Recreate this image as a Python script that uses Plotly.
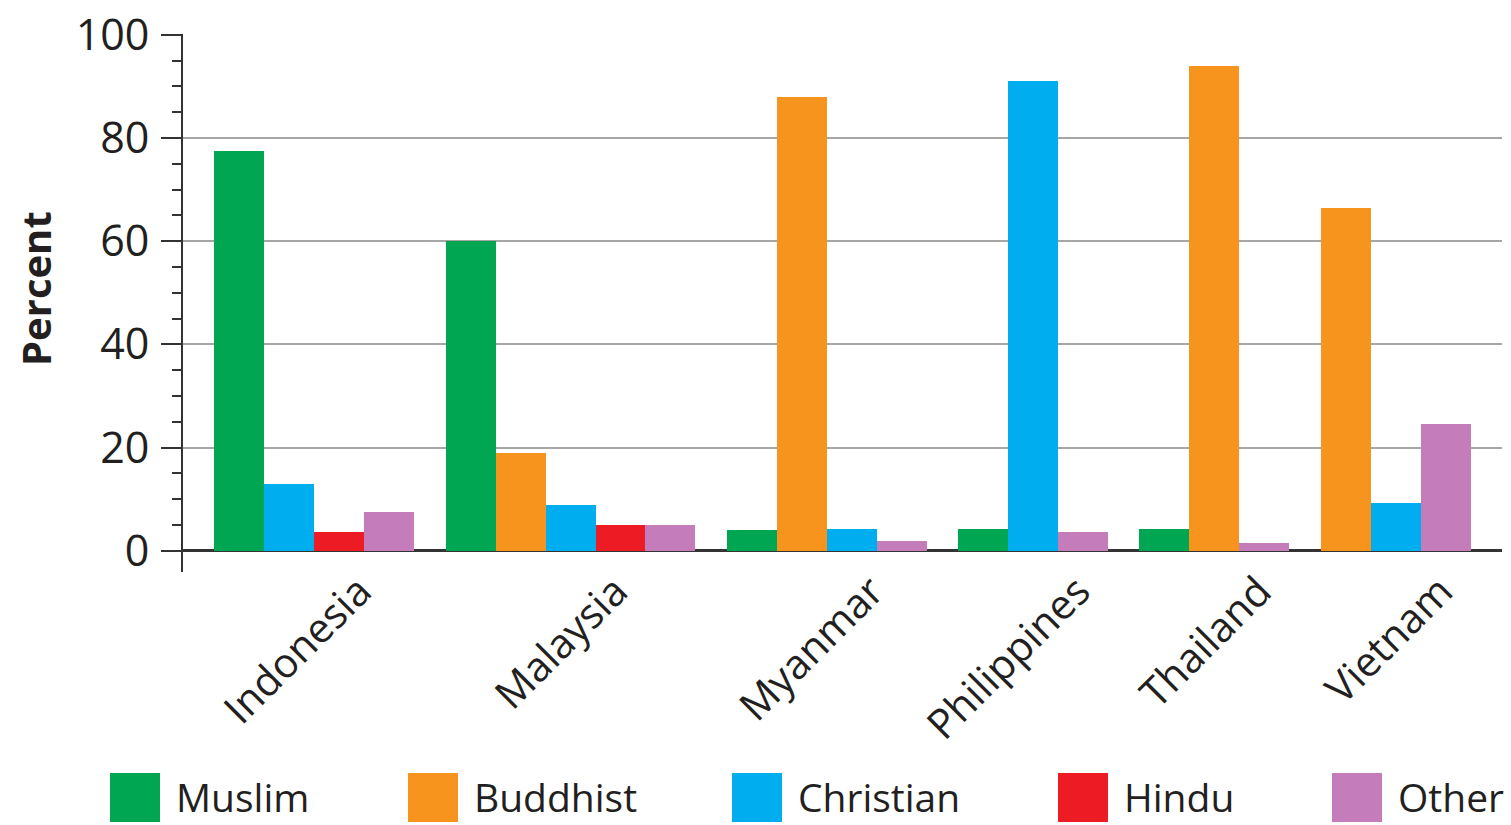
import plotly.graph_objects as go

# ---- data ----
countries = ["Indonesia", "Malaysia", "Myanmar", "Philippines", "Thailand", "Vietnam"]
series_names = ["Muslim", "Buddhist", "Christian", "Hindu", "Other"]
muslim = [77.5, 60, 4, 4.2, 4.2, None]
buddhist = [None, 19, 88, None, 94, 66.5]
christian = [13, 8.8, 4.3, 91, None, 9.2]
hindu = [3.7, 5, None, None, None, None]
other = [7.5, 5, 2, 3.7, 1.5, 24.6]
colors = ["#00A651", "#F7941D", "#00AEEF", "#ED1C24", "#C47DBA"]
y_ticks = [0, 20, 40, 60, 80, 100]

series_values = [muslim, buddhist, christian, hindu, other]

# ---- layout constants ----
W_FIG, H_FIG = 1511, 825
L, R, T, B = 183, 9, 34, 253
PW = W_FIG - L - R
PH = H_FIG - T - B
FONT = "Open Sans, sans-serif"
TXT = "#231F20"
GAP = 0.63          # gap between country groups, in bar widths
LABEL_SHIFT = 0.9   # rotated label anchor shift

def px_x(p):
    return (p - L) / PW

def px_y(p):
    return (H_FIG - B - p) / PH

# compute contiguous bar positions (missing series leave no gap)
cursor = GAP
bar_x = {s: [] for s in series_names}
bar_y = {s: [] for s in series_names}
centers = []
for ci, c in enumerate(countries):
    start = cursor
    for si, s in enumerate(series_names):
        v = series_values[si][ci]
        if v is not None:
            bar_x[s].append(cursor + 0.5)
            bar_y[s].append(v)
            cursor += 1
    centers.append((start + cursor) / 2)
    cursor += GAP
x_total = cursor

fig = go.Figure()
for s, col in zip(series_names, colors):
    fig.add_trace(go.Bar(
        x=bar_x[s], y=bar_y[s], name=s, width=1.0,
        marker=dict(color=col, line=dict(width=0)),
        showlegend=False,
    ))

fig.update_layout(
    width=W_FIG, height=H_FIG,
    margin=dict(l=L, r=R, t=T, b=B, pad=0, autoexpand=False),
    paper_bgcolor="white", plot_bgcolor="white",
    bargap=0, barmode="overlay",
    font=dict(family=FONT, color=TXT, size=40),
    xaxis=dict(
        range=[0, x_total],
        automargin=False,
        tickmode="array",
        tickvals=[c + LABEL_SHIFT for c in centers],
        ticktext=countries,
        tickangle=-45,
        ticks="",
        ticklabelstandoff=-14,
        showgrid=False, zeroline=False, showline=False,
        tickfont=dict(family=FONT, size=41, color=TXT),
    ),
    yaxis=dict(
        range=[-4.1, 100.15],
        automargin=False,
        tickmode="array",
        tickvals=y_ticks,
        ticks="outside", ticklen=20, tickwidth=2, tickcolor="#333",
        ticklabelstandoff=3,
        minor=dict(dtick=5, tick0=0, ticks="outside", ticklen=9,
                   tickwidth=2, tickcolor="#333", showgrid=False),
        showline=True, linewidth=2, linecolor="#333",
        showgrid=True, gridcolor="#A6A6A6", gridwidth=2,
        zeroline=True, zerolinecolor="#333", zerolinewidth=3,
        tickfont=dict(family=FONT, size=43, color=TXT),
    ),
)

# y-axis title
fig.add_annotation(
    text="<b>Percent</b>", textangle=-90,
    xref="paper", yref="paper", x=px_x(35), y=px_y(289),
    xanchor="center", yanchor="middle", showarrow=False,
    font=dict(family=FONT, size=40, color=TXT),
)

# custom legend with large square swatches
swatch_left = [110, 408, 732, 1058, 1332]
for s, col, sx in zip(series_names, colors, swatch_left):
    fig.add_shape(
        type="rect", xref="paper", yref="paper",
        x0=px_x(sx), x1=px_x(sx + 50), y0=px_y(822), y1=px_y(773),
        fillcolor=col, line=dict(width=0), layer="above",
    )
    fig.add_annotation(
        text=s, xref="paper", yref="paper",
        x=px_x(sx + 64), y=px_y(796), xanchor="left", yanchor="middle",
        showarrow=False, font=dict(family=FONT, size=39, color=TXT),
    )

fig.write_html("out.html")
